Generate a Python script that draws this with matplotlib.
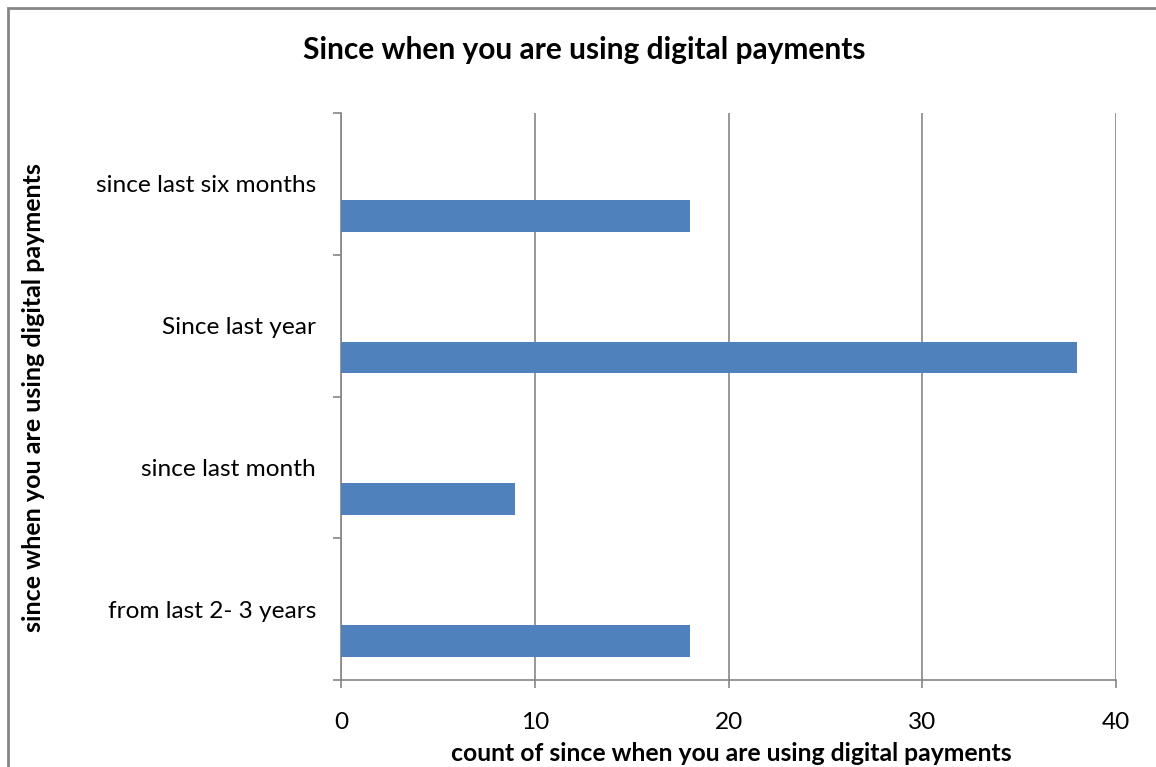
import matplotlib.pyplot as plt
from matplotlib.patches import Rectangle

categories = ['from last 2- 3 years', 'since last month', 'Since last year', 'since last six months']
counts = [18, 9, 38, 18]
x_ticks = [0, 10, 20, 30, 40]

plt.rcParams['font.family'] = ['Lato', 'DejaVu Sans']

fig = plt.figure(figsize=(11.56, 7.67), dpi=100)
ax = fig.add_axes([0.295, 0.1134, 0.6704, 0.7393])

grey = '#868686'
pos = list(range(len(categories)))
# bars sit in the lower part of each band, like an Excel clustered bar
ax.barh([p - 0.225 for p in pos], counts, height=0.225, color='#4F81BD', zorder=3)

ax.set_xlim(0, 40)
ax.set_ylim(-0.5, len(categories) - 0.5)
ax.set_xticks(x_ticks)
ax.set_xticklabels([str(t) for t in x_ticks], fontsize=17.6)
ax.set_yticks(pos)
ax.set_yticklabels(categories, fontsize=17.6)
ax.set_yticks([p - 0.5 for p in pos] + [len(categories) - 0.5], minor=True)
ax.tick_params(axis='y', which='major', length=0, pad=18)
ax.tick_params(axis='y', which='minor', length=6, color=grey, width=1.2)
ax.tick_params(axis='x', length=6, color=grey, width=1.2, pad=17)
ax.grid(axis='x', color=grey, linewidth=1.2, zorder=0)

for side in ['top', 'right']:
    ax.spines[side].set_visible(False)
for side in ['left', 'bottom']:
    ax.spines[side].set_color(grey)
    ax.spines[side].set_linewidth(1.2)

fig.text(0.505, 0.935, 'Since when you are using digital payments',
         ha='center', va='center', fontsize=21.5, fontweight='bold')
fig.text(0.633, 0.018, 'count of since when you are using digital payments',
         ha='center', va='center', fontsize=17.8, fontweight='bold')
fig.text(0.029, 0.482, 'since when you are using digital payments',
         ha='center', va='center', rotation=90, fontsize=18, fontweight='bold')

# outer chart frame
fig.patches.append(Rectangle((8 / 1156, -0.05), 1.1, 1 - 8 / 767 + 0.05,
                             transform=fig.transFigure, fill=False,
                             edgecolor=grey, linewidth=2))

fig.savefig('out.png', dpi=100)
